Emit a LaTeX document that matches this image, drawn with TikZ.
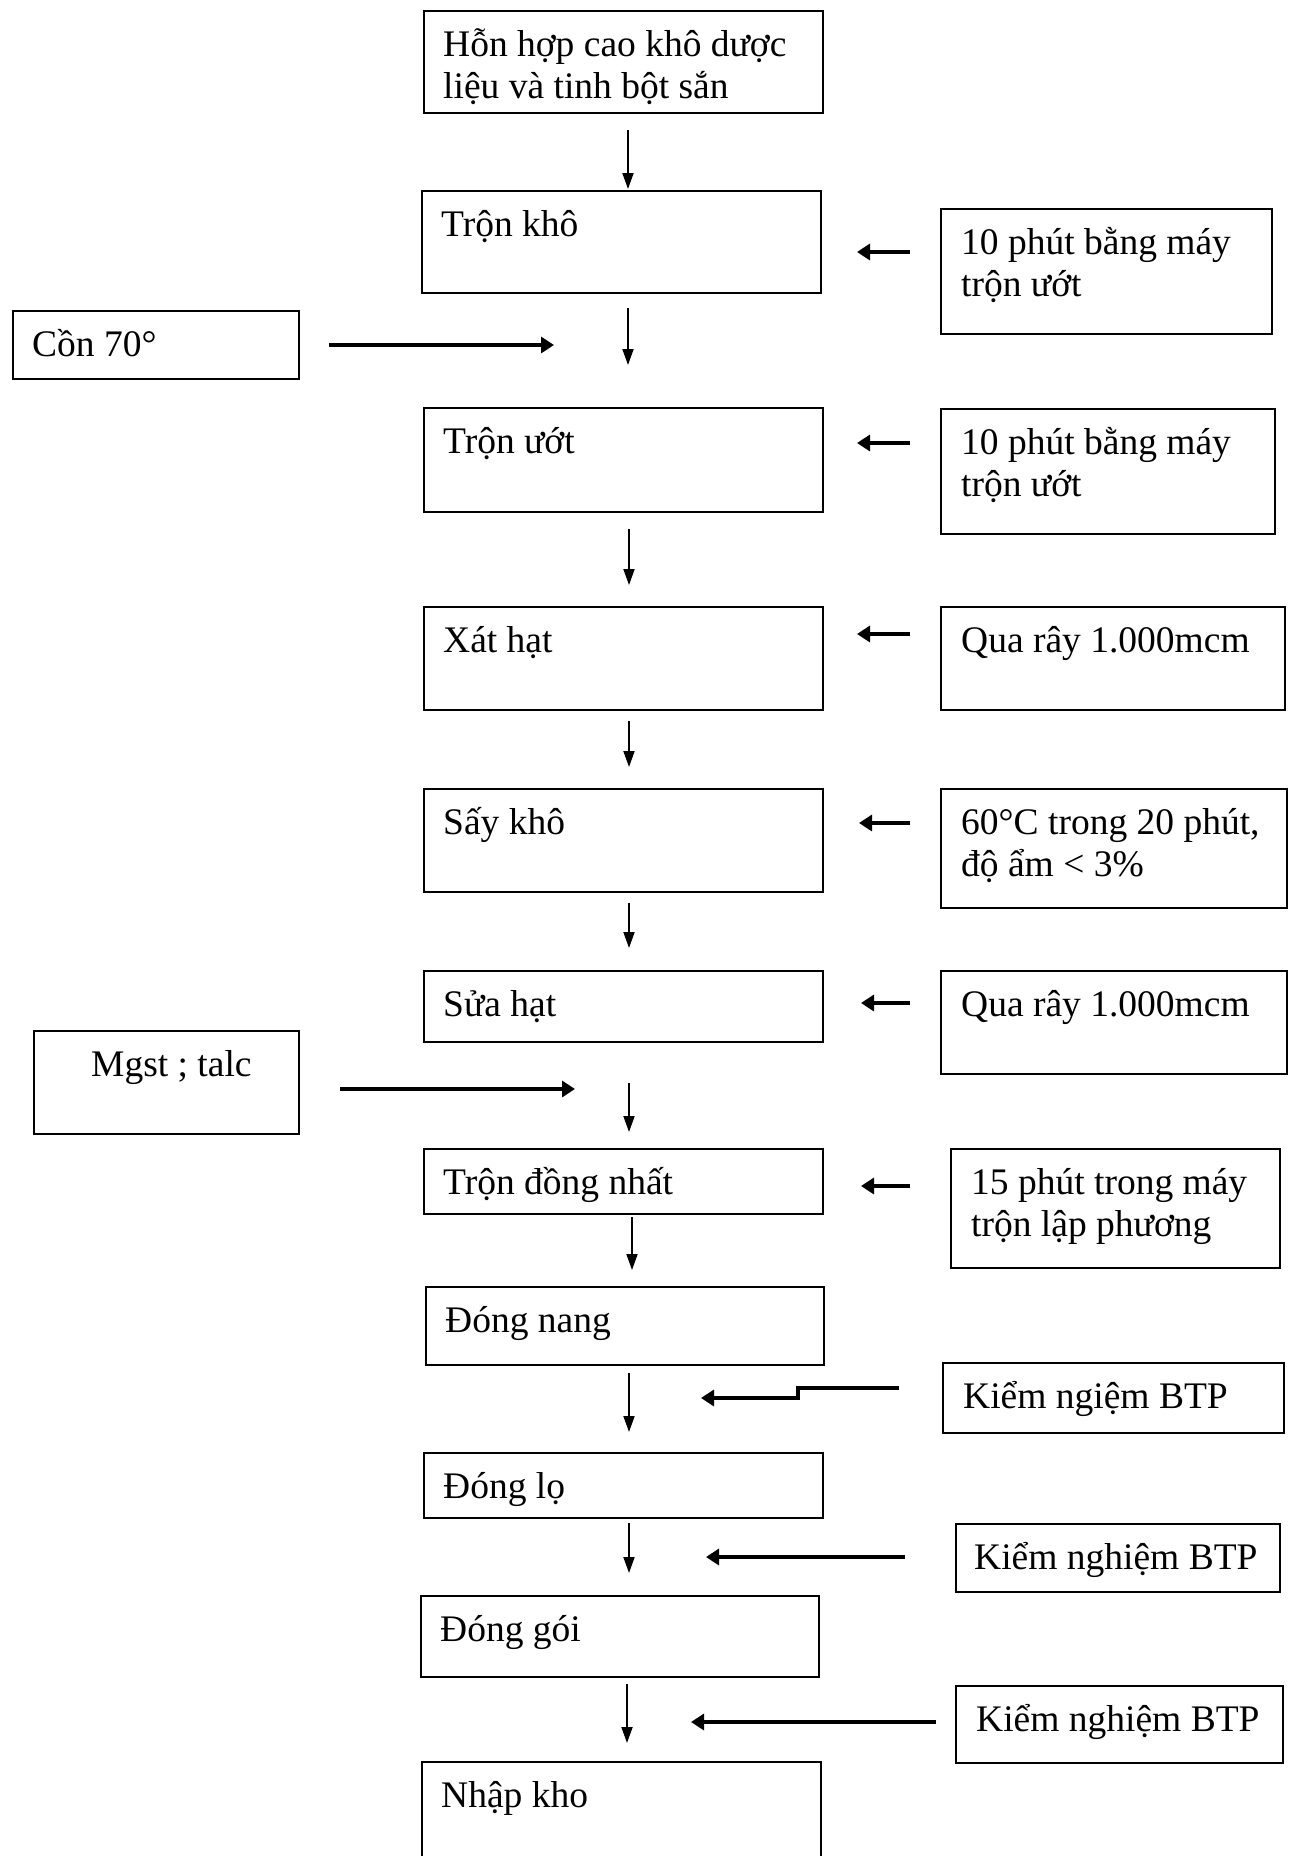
\documentclass[tikz,border=0pt]{standalone}
\usepackage{fontspec}
\setmainfont{Liberation Serif}
\usetikzlibrary{arrows.meta}
\newcommand\twol[2]{\vtop{\hbox{#1}\hbox{#2}}}
\newcommand\pbox[7]{%
  \node[boxst, minimum width={(#4)-(#2)}, minimum height={(#5)-(#3)}] (#1) at (#2,#3) {};
  \node[txt] (#1t) at ([xshift=#6pt,yshift=-46pt]#1.north west) {#7};
}
\tikzset{
  boxst/.style={draw, line width=2pt, inner sep=0pt, anchor=north west},
  txt/.style={inner sep=0pt, anchor=base west, font=\fontsize{37.5}{42}\selectfont},
  flow/.style={line width=1.8pt, -{Triangle[length=16pt,width=11pt]}},
  feed/.style={line width=3.2pt, -{Triangle[length=13pt,width=16pt]}},
}
\begin{document}
\begin{tikzpicture}[x=1pt,y=-1pt]
\clip (0,0) rectangle (1293,1856);
\fill[white] (0,0) rectangle (1293,1856);
% main column
\pbox{b1}{423}{10}{822}{112}{20}{\twol{Hỗn hợp cao khô dược}{liệu và tinh bột sắn}}
\pbox{b2}{421}{190}{820}{292}{20}{Trộn khô}
\pbox{b3}{423}{407}{822}{511}{20}{Trộn ướt}
\pbox{b4}{423}{606}{822}{709}{20}{Xát hạt}
\pbox{b5}{423}{788}{822}{891}{20}{Sấy khô}
\pbox{b6}{423}{970}{822}{1041}{20}{Sửa hạt}
\pbox{b7}{423}{1148}{822}{1213}{20}{Trộn đồng nhất}
\pbox{b8}{425}{1286}{823}{1364}{20}{Đóng nang}
\pbox{b9}{423}{1452}{822}{1517}{20}{Đóng lọ}
\pbox{b10}{420}{1595}{818}{1676}{20}{Đóng gói}
\pbox{b11}{421}{1761}{820}{1900}{20}{Nhập kho}
% right column
\pbox{r1}{940}{208}{1271}{333}{21}{\twol{10 phút bằng máy}{trộn ướt}}
\pbox{r2}{940}{408}{1274}{533}{21}{\twol{10 phút bằng máy}{trộn ướt}}
\pbox{r3}{940}{606}{1284}{709}{21}{Qua rây 1.000mcm}
\pbox{r4}{940}{788}{1286}{907}{21}{\twol{60°C trong 20 phút,}{độ ẩm < 3\%}}
\pbox{r5}{940}{970}{1286}{1073}{21}{Qua rây 1.000mcm}
\pbox{r6}{950}{1148}{1279}{1267}{21}{\twol{15 phút trong máy}{trộn lập phương}}
\pbox{r7}{942}{1362}{1283}{1432}{21}{Kiểm ngiệm BTP}
\pbox{r8}{955}{1523}{1279}{1591}{19}{Kiểm nghiệm BTP}
\pbox{r9}{955}{1685}{1282}{1762}{21}{Kiểm nghiệm BTP}
% left column
\pbox{l1}{12}{310}{298}{378}{20}{Cồn 70°}
\pbox{l2}{33}{1030}{298}{1133}{58}{Mgst ; talc}
% down arrows
\coordinate (d1s) at (628,130);  \coordinate (d1e) at (628,189);
\coordinate (d2s) at (628,308);  \coordinate (d2e) at (628,365);
\coordinate (d3s) at (629,529);  \coordinate (d3e) at (629,585);
\coordinate (d4s) at (629,721);  \coordinate (d4e) at (629,767);
\coordinate (d5s) at (629,903);  \coordinate (d5e) at (629,948);
\coordinate (d6s) at (629,1083); \coordinate (d6e) at (629,1132);
\coordinate (d7s) at (632,1217); \coordinate (d7e) at (632,1270);
\coordinate (d8s) at (629,1373); \coordinate (d8e) at (629,1432);
\coordinate (d9s) at (629,1523); \coordinate (d9e) at (629,1573);
\coordinate (d10s) at (627,1684); \coordinate (d10e) at (627,1743);
\foreach \i in {1,...,10} {\draw[flow] (d\i s) -- (d\i e);}
% feed arrows from right
\coordinate (f1s) at (910,252);  \coordinate (f1e) at (857,252);
\coordinate (f2s) at (910,443);  \coordinate (f2e) at (857,443);
\coordinate (f3s) at (910,634);  \coordinate (f3e) at (857,634);
\coordinate (f4s) at (910,823);  \coordinate (f4e) at (859,823);
\coordinate (f5s) at (910,1003); \coordinate (f5e) at (861,1003);
\coordinate (f6s) at (910,1186); \coordinate (f6e) at (861,1186);
\foreach \i in {1,...,6} {\draw[feed] (f\i s) -- (f\i e);}
\coordinate (g1s) at (899,1388); \coordinate (g1m) at (798,1388);
\coordinate (g1n) at (798,1398); \coordinate (g1e) at (701,1398);
\draw[feed] (g1s) -- (g1m) -- (g1n) -- (g1e);
\coordinate (g2s) at (905,1557); \coordinate (g2e) at (706,1557);
\draw[feed] (g2s) -- (g2e);
\coordinate (g3s) at (936,1722); \coordinate (g3e) at (691,1722);
\draw[feed] (g3s) -- (g3e);
% feed arrows from left
\coordinate (h1s) at (329,345);  \coordinate (h1e) at (554,345);
\draw[feed] (h1s) -- (h1e);
\coordinate (h2s) at (340,1089); \coordinate (h2e) at (575,1089);
\draw[feed] (h2s) -- (h2e);
\end{tikzpicture}
\end{document}
